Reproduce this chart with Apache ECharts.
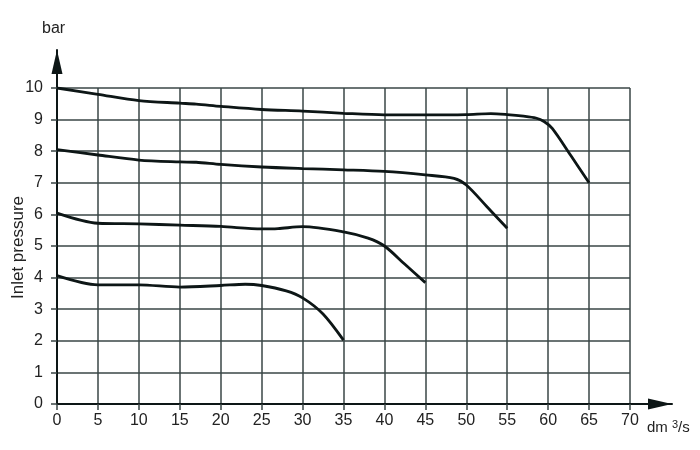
<!DOCTYPE html>
<html><head><meta charset="utf-8">
<script src="https://cdn.jsdelivr.net/npm/echarts@6/dist/echarts.min.js"></script>
<style>html,body{margin:0;padding:0;background:#fff}#c{width:700px;height:450px}</style>
</head><body><div id="c"></div>
<script>
// flow in dm3/s, inlet pressure in bar
const curve10x = [0, 5, 10, 15, 17, 20, 25, 30, 35, 40, 45, 50, 53, 55, 57, 58.5, 59.5, 60.5, 62.75, 65];
const curve10y = [10, 9.8, 9.6, 9.52, 9.49, 9.42, 9.32, 9.27, 9.2, 9.15, 9.15, 9.16, 9.19, 9.16, 9.11, 9.05, 8.94, 8.72, 7.87, 7.0];
const curve8x = [0, 5, 10, 15, 17, 20, 25, 30, 35, 40, 45, 48.5, 50, 52.5, 55];
const curve8y = [8.05, 7.88, 7.72, 7.66, 7.65, 7.58, 7.5, 7.45, 7.41, 7.36, 7.25, 7.14, 6.93, 6.25, 5.56];
const curve6x = [0, 5, 10, 15, 20, 25, 27, 30, 35, 38, 40, 42.5, 45];
const curve6y = [6.04, 5.72, 5.7, 5.66, 5.62, 5.54, 5.55, 5.61, 5.45, 5.25, 5.0, 4.42, 3.84];
const curve4x = [0, 5, 10, 15, 20, 23, 25, 28, 30, 32.5, 35];
const curve4y = [4.06, 3.77, 3.77, 3.7, 3.75, 3.79, 3.75, 3.58, 3.36, 2.85, 2.02];
const xTicks = [0, 5, 10, 15, 20, 25, 30, 35, 40, 45, 50, 55, 60, 65, 70];
const yTicks = [0, 1, 2, 3, 4, 5, 6, 7, 8, 9, 10];

const pair = (xs, ys) => xs.map((x, i) => [x, ys[i]]);
const FF = 'Liberation Sans, Arial, sans-serif';
const labelFont = {color: '#222', fontSize: 16, fontFamily: FF};
const gridColor = '#3a4646';

const chart = echarts.init(document.getElementById('c'), null, {renderer: 'canvas'});
const mkSeries = (xs, ys) => ({
  type: 'line', xAxisIndex: 0, yAxisIndex: 0, data: pair(xs, ys), smooth: 0.3,
  symbol: 'none', lineStyle: {color: '#0d1616', width: 2.8}, z: 5
});
chart.setOption({
  animation: false,
  grid: [
    {left: 57, right: 70, top: 88, bottom: 46},
    {left: 57, right: 28, top: 50, bottom: 46}
  ],
  xAxis: [
    {type: 'value', gridIndex: 0, min: xTicks[0], max: xTicks[xTicks.length - 1], interval: 5,
      axisLine: {show: false},
      axisTick: {show: true, length: 6, lineStyle: {color: gridColor, width: 1.5}},
      axisLabel: Object.assign({margin: 9}, labelFont),
      splitLine: {show: true, lineStyle: {color: gridColor, width: 1.5}}},
    {type: 'value', gridIndex: 1, min: 0, max: 1,
      axisLine: {show: true, symbol: ['none', 'triangle'], symbolSize: [11, 24], symbolOffset: [0, -12], lineStyle: {color: '#0d1616', width: 2}},
      axisTick: {show: false}, axisLabel: {show: false}, splitLine: {show: false}}
  ],
  yAxis: [
    {type: 'value', gridIndex: 0, min: yTicks[0], max: yTicks[yTicks.length - 1], interval: 1,
      axisLine: {show: false},
      axisTick: {show: true, length: 6, lineStyle: {color: gridColor, width: 1.5}},
      axisLabel: Object.assign({margin: 14}, labelFont),
      splitLine: {show: true, lineStyle: {color: gridColor, width: 1.5}}},
    {type: 'value', gridIndex: 1, min: 0, max: 1,
      axisLine: {show: true, symbol: ['none', 'triangle'], symbolSize: [11, 24], symbolOffset: [0, -12], lineStyle: {color: '#0d1616', width: 2}},
      axisTick: {show: false}, axisLabel: {show: false}, splitLine: {show: false}}
  ],
  series: [
    mkSeries(curve10x, curve10y),
    mkSeries(curve8x, curve8y),
    mkSeries(curve6x, curve6y),
    mkSeries(curve4x, curve4y)
  ],
  graphic: [
    {type: 'text', left: 42, top: 21, style: {text: 'bar', fill: '#222', fontSize: 16, fontFamily: FF}},
    {type: 'text', x: 10, y: 299, rotation: Math.PI / 2, style: {text: 'Inlet pressure', fill: '#222', fontSize: 17, fontFamily: FF}},
    {type: 'text', left: 647, top: 419, style: {
      text: '{a|dm }{b|3}{a|/s}', fill: '#222',
      rich: {a: {fontSize: 15, fontFamily: FF, fill: '#222'},
             b: {fontSize: 11, fontFamily: FF, fill: '#222', verticalAlign: 'top', padding: [0, 0, 6, 0]}}
    }}
  ]
});
</script></body></html>
